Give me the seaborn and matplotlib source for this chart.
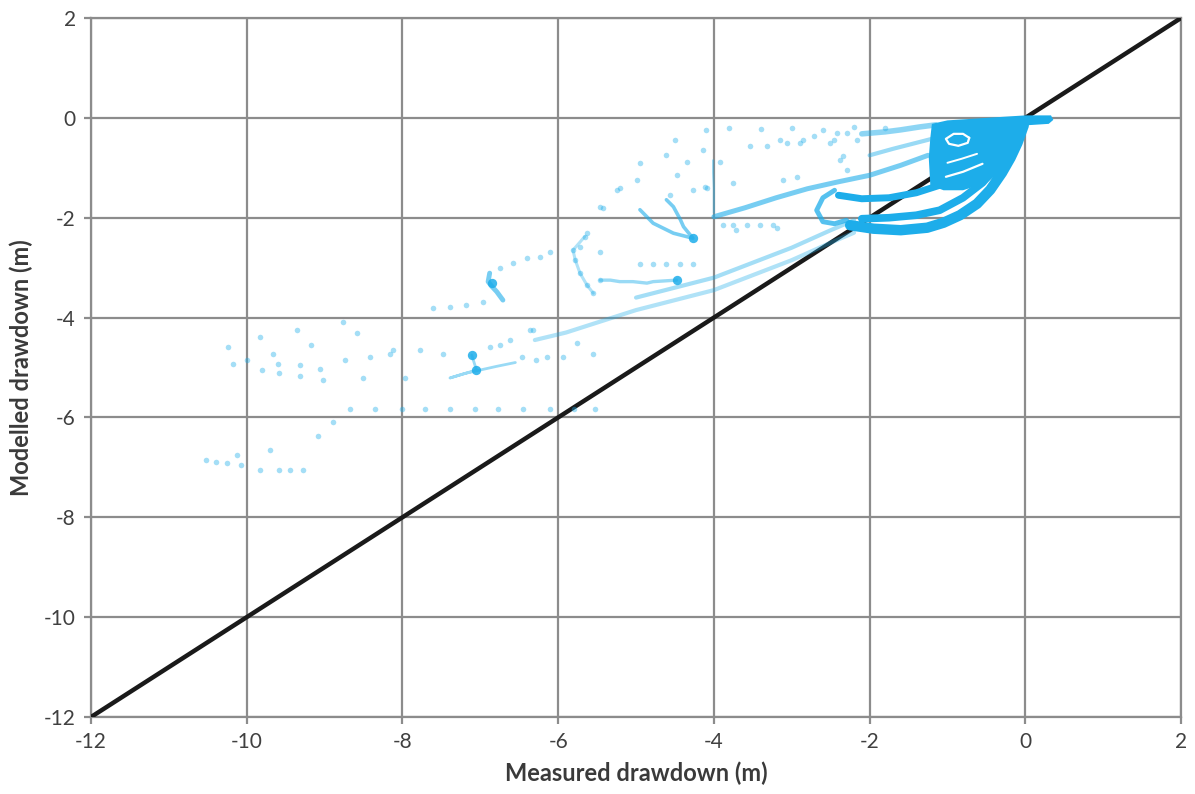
import matplotlib
matplotlib.use("Agg")
import matplotlib.pyplot as plt
import seaborn as sns

# ---- 1:1 reference line ----
line_x = [-12, 2]
line_y = [-12, 2]

# ---- sparse observations (measured, modelled) ----
sparse_x = [-10.24, -10.18, -10.00, -9.83, -9.81, -9.66, -9.60, -9.58, -9.36, -9.32,
            -9.32, -9.17, -9.06, -9.02, -8.76, -8.74, -8.59, -8.51, -8.42, -8.12,
            -7.97, -7.78, -7.48, -8.16, -8.89, -9.08,
            -10.52, -10.39, -10.26, -10.13, -10.07, -9.83, -9.70, -9.58, -9.45, -9.28,
            -8.68, -8.35, -8.01, -7.71, -7.39, -7.07, -6.77, -6.45, -6.11, -5.80, -5.53,
            -6.88, -6.75, -6.62, -6.47, -6.28, -6.15, -6.36, -5.94, -5.76, -5.55,
            -7.61, -7.39, -7.18, -6.97, -6.32,
            -6.75, -6.58, -6.40, -6.23, -6.11,
            -5.81, -5.78, -5.72, -5.63, -5.55, -5.66, -5.46, -5.46,
            -4.95, -4.78, -4.61, -4.43, -4.27,
            -4.61, -4.14, -4.95, -4.99, -4.48, -4.35, -5.25, -5.42, -5.63, -5.72,
            -4.09, -3.75, -3.53, -3.32, -3.11, -2.89, -2.72, -2.51, -2.34, -2.42,
            -3.88, -3.75, -3.57, -3.41, -3.24, -3.19,
            -3.15, -3.92, -4.11, -4.27, -4.56, -5.21, -5.46, -3.71,
            -3.06, -2.85, -2.46, -2.29, -2.16, -2.38, -2.29, -2.93,
            -4.50, -4.10, -3.80, -3.40, -3.00, -2.60, -2.20, -1.80]
sparse_y = [-4.58, -4.92, -4.85, -4.38, -5.05, -4.72, -4.92, -5.12, -4.25, -4.95,
            -5.18, -4.55, -5.02, -5.25, -4.08, -4.85, -4.31, -5.22, -4.78, -4.65,
            -5.22, -4.65, -4.72, -4.72, -6.09, -6.37,
            -6.85, -6.89, -6.92, -6.75, -6.95, -7.05, -6.65, -7.05, -7.05, -7.05,
            -5.83, -5.83, -5.83, -5.83, -5.83, -5.83, -5.83, -5.83, -5.83, -5.83, -5.83,
            -4.58, -4.55, -4.45, -4.78, -4.85, -4.78, -4.25, -4.78, -4.51, -4.72,
            -3.81, -3.78, -3.75, -3.68, -4.25,
            -3.01, -2.91, -2.81, -2.78, -2.68,
            -2.65, -2.85, -3.11, -3.35, -3.51, -2.38, -2.68, -3.25,
            -2.92, -2.92, -2.92, -2.92, -2.92,
            -0.74, -0.64, -0.90, -1.24, -1.14, -0.88, -1.44, -1.80, -2.31, -2.58,
            -1.40, -1.31, -0.57, -0.57, -1.24, -0.50, -0.37, -0.50, -0.77, -0.30,
            -2.15, -2.15, -2.15, -2.15, -2.15, -2.21,
            -0.44, -0.88, -1.38, -1.44, -1.54, -1.40, -1.78, -2.24,
            -0.50, -0.44, -0.44, -0.30, -0.44, -0.84, -1.04, -1.18,
            -0.45, -0.25, -0.20, -0.22, -0.20, -0.25, -0.18, -0.20]

# heavier single readings
spot_x = [-7.11, -7.05, -4.27, -4.48, -6.85]
spot_y = [-4.75, -5.05, -2.41, -3.25, -3.30]

# ---- short well traces (light) ----
curl_x = [-6.88, -6.90, -6.85, -6.79, -6.71]
curl_y = [-3.11, -3.28, -3.38, -3.48, -3.65]
hook_x = [-7.11, -7.05, -7.39, -7.20, -7.00, -6.80, -6.55]
hook_y = [-4.75, -5.05, -5.21, -5.12, -5.05, -4.98, -4.90]
arc_x = [-5.66, -5.81, -5.78, -5.72, -5.63, -5.55]
arc_y = [-2.38, -2.65, -2.85, -3.11, -3.35, -3.51]
flat_x = [-5.46, -5.33, -5.21, -5.04, -4.86, -4.78, -4.48]
flat_y = [-3.25, -3.25, -3.28, -3.28, -3.31, -3.28, -3.25]
vee_x = [-4.95, -4.78, -4.52, -4.27, -4.39, -4.43, -4.52, -4.61]
vee_y = [-1.84, -2.11, -2.31, -2.41, -2.18, -2.04, -1.78, -1.64]
stem_x = [-4.01, -4.01, -4.00, -4.00, -4.00]
stem_y = [-0.85, -1.10, -1.40, -1.65, -1.90]
band_u_x = [-4.0, -3.6, -3.2, -2.8, -2.4, -2.0, -1.6, -1.25]
band_u_y = [-1.98, -1.80, -1.60, -1.42, -1.28, -1.15, -0.95, -0.75]
band_l1_x = [-6.3, -5.9, -5.5, -5.0, -4.5, -4.0, -3.5, -3.0, -2.5, -2.2]
band_l1_y = [-4.45, -4.30, -4.10, -3.85, -3.65, -3.45, -3.15, -2.85, -2.50, -2.30]
band_l2_x = [-5.0, -4.5, -4.0, -3.5, -3.0, -2.5, -2.2]
band_l2_y = [-3.60, -3.40, -3.20, -2.90, -2.60, -2.25, -2.05]
loop_x = [-2.45, -2.60, -2.68, -2.60, -2.45, -2.30, -2.20]
loop_y = [-1.45, -1.60, -1.85, -2.08, -2.12, -2.05, -2.20]
top_band_x = [-2.1, -1.8, -1.6, -1.35, -1.15]
top_band_y = [-0.32, -0.28, -0.24, -0.18, -0.14]
upper_band_x = [-2.0, -1.7, -1.4, -1.15]
upper_band_y = [-0.75, -0.62, -0.50, -0.40]

# ---- dense cluster near the origin ----
core_x = [-1.20, -1.00, -0.50, 0.00, 0.33, 0.36, 0.30, 0.00, -0.08, -0.18, -0.30,
          -0.50, -0.80, -1.05, -1.22, -1.24, -1.22]
core_y = [-0.12, -0.05, 0.00, 0.05, 0.05, -0.04, -0.12, -0.15, -0.40, -0.75, -1.05,
          -1.30, -1.45, -1.45, -1.35, -0.80, -0.40]
b1_x = [-0.02, -0.10, -0.19, -0.30, -0.45, -0.62, -0.84, -1.05, -1.26, -1.60, -1.95, -2.25]
b1_y = [-0.15, -0.50, -0.80, -1.10, -1.44, -1.72, -1.95, -2.10, -2.20, -2.25, -2.22, -2.15]
b2_x = [-0.20, -0.35, -0.55, -0.80, -1.10, -1.40, -1.75, -2.10]
b2_y = [-0.60, -0.95, -1.30, -1.60, -1.85, -1.95, -2.00, -2.02]
b3_x = [-0.50, -0.80, -1.10, -1.40, -1.75, -2.10, -2.40]
b3_y = [-0.80, -1.10, -1.35, -1.50, -1.60, -1.62, -1.55]
# gaps left open inside the cluster
gap1_x = [-1.02, -0.80, -0.55]
gap1_y = [-1.18, -1.08, -0.92]
gap2_x = [-1.00, -0.82, -0.62]
gap2_y = [-0.90, -0.82, -0.72]
ring_x = [-0.72, -0.80, -0.92, -1.02, -0.98, -0.86, -0.74, -0.72]
ring_y = [-0.40, -0.32, -0.32, -0.42, -0.52, -0.56, -0.50, -0.40]

BLUE = "#1dadea"
GRID = "#8c8c8c"

sns.set_theme(style="white")
plt.rcParams["font.family"] = ["Lato", "DejaVu Sans"]
plt.rcParams["axes.unicode_minus"] = False

fig = plt.figure(figsize=(11.95, 7.94), dpi=100)
ax = fig.add_axes([0.0762, 0.0970, 0.9121, 0.8803])

sns.lineplot(x=line_x, y=line_y, ax=ax, color="#1a1a1a", lw=3.2, zorder=3,
             sort=False, estimator=None)

light = [(curl_x, curl_y, 3.5, 0.6), (hook_x, hook_y, 2.0, 0.45),
         (arc_x, arc_y, 2.2, 0.35), (flat_x, flat_y, 2.4, 0.45),
         (vee_x, vee_y, 2.6, 0.6), (stem_x, stem_y, 1.6, 0.4),
         (band_u_x, band_u_y, 3.6, 0.6), (band_l1_x, band_l1_y, 3.0, 0.35),
         (band_l2_x, band_l2_y, 3.0, 0.4), (loop_x, loop_y, 3.5, 0.75),
         (top_band_x, top_band_y, 4.0, 0.5), (upper_band_x, upper_band_y, 3.0, 0.45)]
for xs, ys, lw, a in light:
    sns.lineplot(x=xs, y=ys, ax=ax, color=BLUE, lw=lw, alpha=a, zorder=4,
                 sort=False, estimator=None)

sns.scatterplot(x=sparse_x, y=sparse_y, ax=ax, color=BLUE, s=16, alpha=0.4,
                linewidth=0, zorder=4)
sns.scatterplot(x=spot_x, y=spot_y, ax=ax, color=BLUE, s=45, alpha=0.85,
                linewidth=0, zorder=5)

ax.fill(core_x, core_y, color=BLUE, lw=0, zorder=6)
for xs, ys, lw in [(b1_x, b1_y, 7.5), (b2_x, b2_y, 5.5), (b3_x, b3_y, 5.0)]:
    sns.lineplot(x=xs, y=ys, ax=ax, color=BLUE, lw=lw, zorder=6, sort=False,
                 estimator=None, solid_capstyle="round")
for xs, ys, lw in [(gap1_x, gap1_y, 1.6), (gap2_x, gap2_y, 1.4), (ring_x, ring_y, 1.6)]:
    sns.lineplot(x=xs, y=ys, ax=ax, color="white", lw=lw, zorder=7, sort=False,
                 estimator=None)

ax.set_xlim(-12, 2)
ax.set_ylim(-12, 2)
ax.set_xticks(range(-12, 3, 2))
ax.set_yticks(range(-12, 3, 2))
ax.grid(True, color=GRID, lw=1.6)
ax.set_axisbelow(True)
for sp in ax.spines.values():
    sp.set_color(GRID)
    sp.set_linewidth(1.6)
ax.tick_params(axis="both", which="major", direction="out", length=5, width=1.6,
               color=GRID, labelsize=15, labelcolor="#404040", pad=6,
               bottom=True, left=True)
ax.set_xlabel("Measured drawdown (m)", fontsize=17, fontweight="bold",
              color="#3a3a3a", labelpad=7)
ax.set_ylabel("Modelled drawdown (m)", fontsize=17, fontweight="bold",
              color="#3a3a3a", labelpad=8)

fig.savefig("out.png", dpi=100)
